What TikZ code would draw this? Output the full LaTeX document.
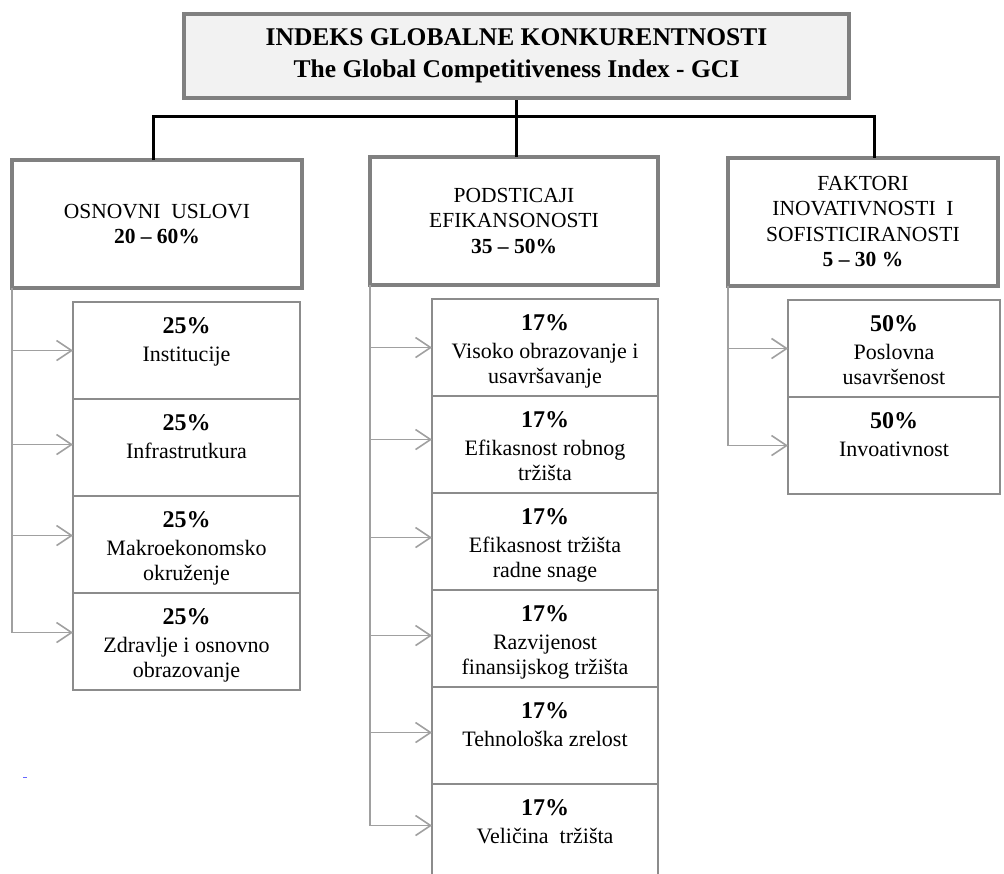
\documentclass[tikz,border=0pt]{standalone}
\usepackage{fontspec}
\setmainfont{Liberation Serif}
\usetikzlibrary{arrows.meta, positioning}
\definecolor{boxgray}{HTML}{808080}
\definecolor{cellgray}{HTML}{8C8C8C}
\definecolor{feedgray}{HTML}{A0A0A0}
\newcommand{\pctline}[1]{{\fontsize{24}{26}\selectfont\bfseries #1\%}}
\tikzset{
  gcibox/.style={rectangle, draw=boxgray, line width=4pt, fill=gray!10,
    minimum width=665pt, minimum height=84pt, align=center,
    font=\bfseries\fontsize{25.5}{32}\selectfont},
  pillar/.style={rectangle, draw=boxgray, line width=4pt, fill=white,
    minimum height=128pt, outer sep=0pt, align=center,
    font=\fontsize{21.5}{25.5}\selectfont},
  cell/.style={rectangle, draw=cellgray, line width=1.5pt, fill=white,
    minimum width=#1, minimum height=97pt, outer sep=0pt, inner sep=0pt},
  celltext/.style={anchor=north, yshift=-12pt, align=center,
    font=\fontsize{22}{25}\selectfont},
  link/.style={draw=black, line width=3pt},
  feed/.style={draw=feedgray, line width=1.6pt,
    -{Straight Barb[length=15pt, width=20pt]}}
}
\begin{document}
\begin{tikzpicture}[x=1pt, y=-1pt]
\useasboundingbox (0,0) rectangle (1004,873);

% top index and the three pillars
\node (gci) [gcibox] at (516.5,56) {INDEKS GLOBALNE KONKURENTNOSTI\\The Global Competitiveness Index - GCI};
\node (osn) [pillar, minimum width=290pt] at (157,224) {OSNOVNI\ \ USLOVI\\\textbf{20 -- 60\%}};
\node (pod) [pillar, minimum width=288pt] at (514,221) {PODSTICAJI\\EFIKANSONOSTI\\\textbf{35 -- 50\%}};
\node (fak) [pillar, minimum width=270pt] at (863,221.5) {FAKTORI\\INOVATIVNOSTI\ \ I\\SOFISTICIRANOSTI\\\textbf{5 -- 30 \%}};

% osnovni uslovi
\node (ins) [cell=227pt, label={[celltext]north:{\pctline{25}\\[3pt]Institucije}}] at (186.5,350.5) {};
\node (inf) [cell=227pt, below=0pt of ins, label={[celltext]north:{\pctline{25}\\[3pt]Infrastrutkura}}] {};
\node (mak) [cell=227pt, below=0pt of inf, label={[celltext]north:{\pctline{25}\\[3pt]Makroekonomsko\\okruženje}}] {};
\node (zdr) [cell=227pt, below=0pt of mak, label={[celltext]north:{\pctline{25}\\[3pt]Zdravlje i osnovno\\obrazovanje}}] {};

% podsticaji efikasnosti
\node (vis) [cell=226pt, label={[celltext]north:{\pctline{17}\\[3pt]Visoko obrazovanje i\\usavršavanje}}] at (545,347.5) {};
\node (rob) [cell=226pt, below=0pt of vis, label={[celltext]north:{\pctline{17}\\[3pt]Efikasnost robnog\\tržišta}}] {};
\node (rad) [cell=226pt, below=0pt of rob, label={[celltext]north:{\pctline{17}\\[3pt]Efikasnost tržišta\\radne snage}}] {};
\node (fin) [cell=226pt, below=0pt of rad, label={[celltext]north:{\pctline{17}\\[3pt]Razvijenost\\finansijskog tržišta}}] {};
\node (teh) [cell=226pt, below=0pt of fin, label={[celltext]north:{\pctline{17}\\[3pt]Tehnološka zrelost}}] {};
\node (vel) [cell=226pt, below=0pt of teh, label={[celltext]north:{\pctline{17}\\[3pt]Veličina\ \ tržišta}}] {};

% faktori inovativnosti
\node (pos) [cell=212pt, label={[celltext]north:{\pctline{50}\\[3pt]Poslovna\\usavršenost}}] at (894,348.5) {};
\node (ino) [cell=212pt, below=0pt of pos, label={[celltext]north:{\pctline{50}\\[3pt]Invoativnost}}] {};

% tree links
\coordinate (bus) at (516.5,116);
\draw [link] (gci.south) -- (gci.south |- pod.north);
\draw [link] ([xshift=-4pt]osn.north) |- (bus) -| ([xshift=11pt]fak.north);

% feeds into the sub-indicators
\draw [feed] (osn.south west) |- ([yshift=9pt]zdr.west);
\draw [feed] (osn.south west |- ins.west) -- (ins.west);
\draw [feed] ([yshift=3pt]osn.south west |- inf.west) -- ([yshift=3pt]inf.west);
\draw [feed] ([yshift=9pt]osn.south west |- mak.west) -- ([yshift=9pt]mak.west);

\draw [feed] (pod.south west) |- ([yshift=7pt]vel.west);
\draw [feed] (pod.south west |- vis.west) -- (vis.west);
\draw [feed] ([yshift=5pt]pod.south west |- rob.west) -- ([yshift=5pt]rob.west);
\draw [feed] ([yshift=4pt]pod.south west |- rad.west) -- ([yshift=4pt]rad.west);
\draw [feed] ([yshift=3pt]pod.south west |- fin.west) -- ([yshift=3pt]fin.west);
\draw [feed] ([yshift=3pt]pod.south west |- teh.west) -- ([yshift=3pt]teh.west);

\draw [feed] (fak.south west) |- (ino.west);
\draw [feed] (fak.south west |- pos.west) -- (pos.west);

\draw [blue!60, line width=1pt] (23,777) -- (27,777);
\end{tikzpicture}
\end{document}
